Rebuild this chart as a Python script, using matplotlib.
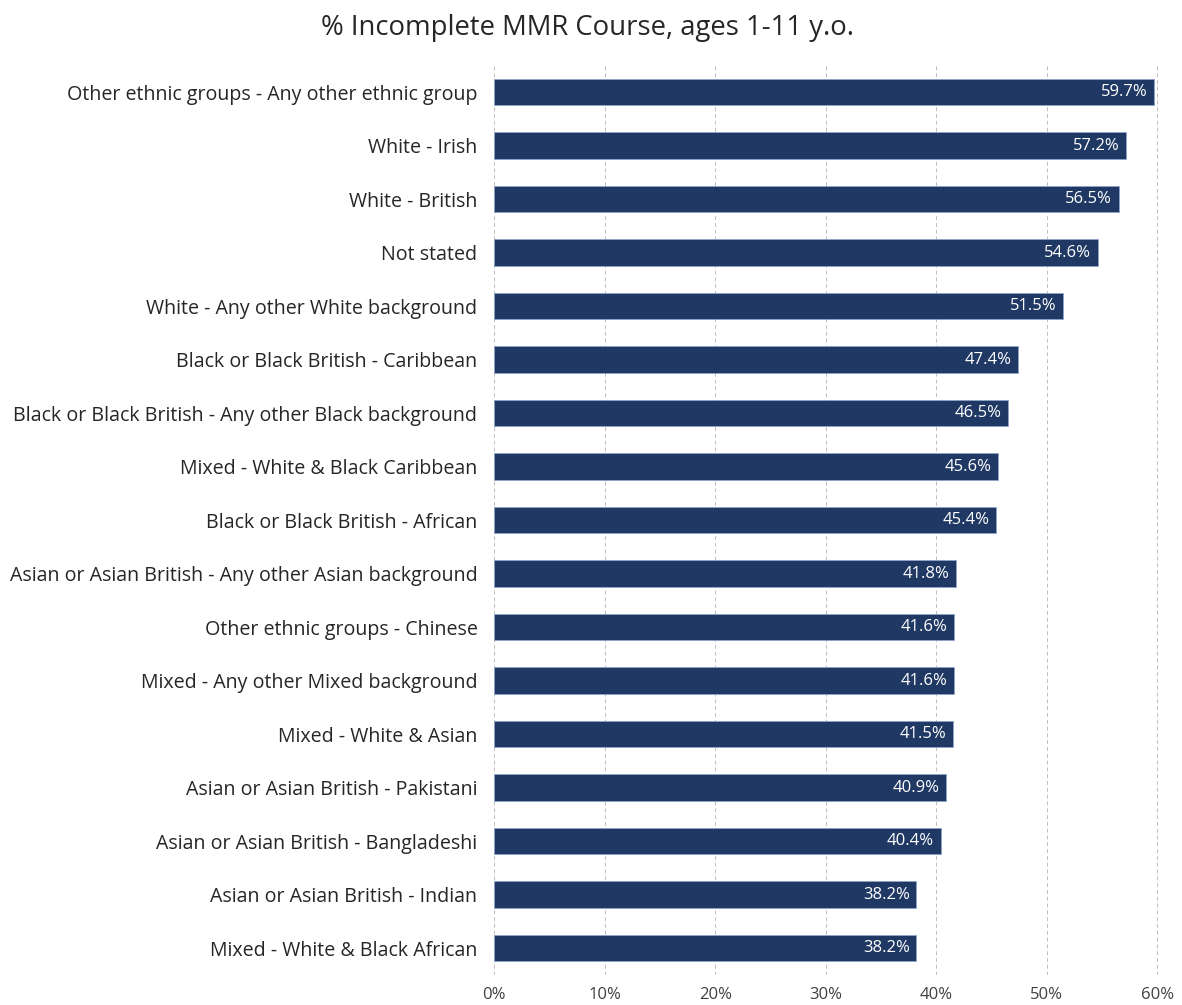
import matplotlib
matplotlib.use("Agg")
import matplotlib.pyplot as plt
from matplotlib.ticker import PercentFormatter

categories = [
    "Other ethnic groups - Any other ethnic group",
    "White - Irish",
    "White - British",
    "Not stated",
    "White - Any other White background",
    "Black or Black British - Caribbean",
    "Black or Black British - Any other Black background",
    "Mixed - White & Black Caribbean",
    "Black or Black British - African",
    "Asian or Asian British - Any other Asian background",
    "Other ethnic groups - Chinese",
    "Mixed - Any other Mixed background",
    "Mixed - White & Asian",
    "Asian or Asian British - Pakistani",
    "Asian or Asian British - Bangladeshi",
    "Asian or Asian British - Indian",
    "Mixed - White & Black African",
]
values = [59.7, 57.2, 56.5, 54.6, 51.5, 47.4, 46.5, 45.6, 45.4, 41.8, 41.6, 41.6, 41.5, 40.9, 40.4, 38.2, 38.2]
xticks = [0, 10, 20, 30, 40, 50, 60]
title = "% Incomplete MMR Course, ages 1-11 y.o."

plt.rcParams['font.family'] = ['Open Sans', 'DejaVu Sans']

fig = plt.figure(figsize=(11.82, 10.05), dpi=100)
ax = fig.add_axes([0.418, 0.030, 0.563, 0.905])

y = list(range(len(categories)))
ax.barh(y, values, height=0.5, color="#203864", edgecolor="#8FA3C8", linewidth=0.6, zorder=3)
for yi, v in zip(y, values):
    ax.text(v - 0.6, yi, f"{v:.1f}%", ha="right", va="center", color="white", fontsize=12, zorder=4)

ax.set_ylim(len(categories) - 0.5, -0.5)
ax.set_xlim(0, 60.2)
ax.set_yticks(y)
ax.set_yticklabels(categories, fontsize=14.1, color="#262626")
ax.set_xticks(xticks)
ax.xaxis.set_major_formatter(PercentFormatter(decimals=0))
ax.tick_params(axis="x", labelsize=12, colors="#404040", length=0, pad=9)
ax.tick_params(axis="y", length=0, pad=12)
for s in ax.spines.values():
    s.set_visible(False)
ax.grid(axis="x", color="#BFBFBF", linestyle=(0, (4, 3)), linewidth=0.7, zorder=0)
ax.set_axisbelow(True)

fig.text(0.497, 0.972, title, ha="center", va="center", fontsize=19.8, color="#262626")

fig.savefig("out.png", dpi=100)
